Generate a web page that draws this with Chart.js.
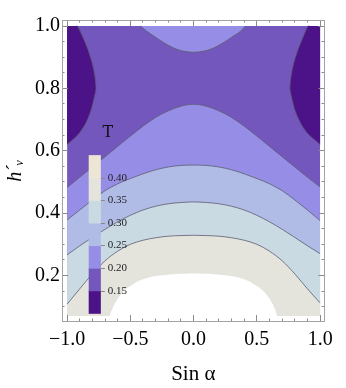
<!DOCTYPE html>
<html><head><meta charset="utf-8">
<script src="https://cdn.jsdelivr.net/npm/chart.js@4.4.0/dist/chart.umd.min.js"></script>
<style>html,body{margin:0;padding:0;background:#fff;}canvas{display:block;}</style>
</head><body>
<canvas id="c" width="346" height="388"></canvas>
<script>
// ---- axis ticks ----
const xMajorTicks = [-1, -0.5, 0, 0.5, 1];
const xTickLabels = ['\u22121.0', '\u22120.5', '0.0', '0.5', '1.0'];
const yMajorTicks = [0.2, 0.4, 0.6, 0.8, 1.0];
const yTickLabels = ['0.2', '0.4', '0.6', '0.8', '1.0'];
const xTitle = 'Sin \u03b1';
const yTitle = 'h\u00b4\u1d65';

// ---- contour levels (colour bar) ----
const legendTitle = 'T';
const legendLevels = ['0.15', '0.20', '0.25', '0.30', '0.35', '0.40'];
const levelColors = ['#4C1388', '#7357BD', '#968EE6', '#B0BCE6', '#C9DAE3', '#E4E4DD', '#EEE6D4'];

// ---- contour curves (x = Sin α, y = h'_v) ----
const curveX = [-1, -0.9, -0.8, -0.7, -0.6, -0.5, -0.4, -0.3, -0.2, -0.1, 0, 0.1, 0.2, 0.3, 0.4, 0.5, 0.6, 0.7, 0.8, 0.9, 1];
const level020Lower = [0.482, 0.515, 0.548, 0.581, 0.614, 0.647, 0.679, 0.707, 0.728, 0.743, 0.749, 0.743, 0.728, 0.707, 0.679, 0.647, 0.614, 0.581, 0.548, 0.515, 0.484];
const level025 = [0.378, 0.410, 0.442, 0.472, 0.494, 0.511, 0.526, 0.539, 0.548, 0.553, 0.554, 0.553, 0.548, 0.539, 0.526, 0.511, 0.494, 0.472, 0.442, 0.410, 0.376];
const level030 = [0.266, 0.295, 0.322, 0.348, 0.372, 0.393, 0.410, 0.422, 0.430, 0.434, 0.436, 0.434, 0.430, 0.422, 0.410, 0.393, 0.372, 0.348, 0.322, 0.295, 0.270];
const level035 = [0.108, 0.157, 0.205, 0.247, 0.278, 0.300, 0.313, 0.321, 0.326, 0.328, 0.329, 0.328, 0.326, 0.321, 0.313, 0.300, 0.278, 0.247, 0.205, 0.157, 0.112];

const capX = [-0.42, -0.375, -0.3, -0.225, -0.15, -0.075, 0, 0.075, 0.15, 0.225, 0.3, 0.375, 0.41];
const level020Upper = [1.0, 0.985, 0.964, 0.944, 0.928, 0.919, 0.916, 0.919, 0.928, 0.944, 0.964, 0.985, 1.0];

const darkLeftX = [-1, -0.95, -0.9, -0.85, -0.81, -0.785, -0.771, -0.78, -0.8, -0.835, -0.875, -0.917];
const darkLeftY = [0.62, 0.637, 0.658, 0.69, 0.73, 0.77, 0.8, 0.84, 0.88, 0.925, 0.965, 1.0];
const darkRightX = [1, 0.95, 0.895, 0.843, 0.8, 0.775, 0.761, 0.77, 0.79, 0.825, 0.865, 0.903];
const darkRightY = [0.62, 0.637, 0.658, 0.69, 0.73, 0.77, 0.8, 0.84, 0.88, 0.925, 0.965, 1.0];

const blankX = [-0.665, -0.64, -0.6, -0.55, -0.5, -0.43, -0.3, -0.15, 0, 0.15, 0.3, 0.43, 0.5, 0.55, 0.6, 0.64, 0.66];
const blankY = [0.07, 0.095, 0.125, 0.15, 0.166, 0.183, 0.198, 0.204, 0.206, 0.204, 0.198, 0.183, 0.166, 0.15, 0.125, 0.095, 0.07];

// ---- plotted domain ----
const xDomain = [-1, 1];
const yDomain = [0.07, 1.0];

// ---- styles ----
const contourLine = 'rgba(92,92,112,0.8)';
const frameColor = '#a3a3a3';
const tickColor = '#8a8a8a';
const serif = '"Liberation Serif", "Times New Roman", serif';

const pts = (xs, ys) => xs.map((x, i) => ({x, y: ys[i]}));
// closes a corner region along the domain edges (x = edgeX, y = top)
function cornerPolygon(xs, ys, edgeX) {
  const p = pts(xs, ys);
  const lastX = xs[xs.length - 1];
  const top = yDomain[1];
  [lastX + (edgeX - lastX) * 0.3, lastX + (edgeX - lastX) * 0.7, lastX + (edgeX - lastX) * 0.97].forEach(x => p.push({x, y: top}));
  p.push({x: edgeX, y: top});
  const bot = ys[0];
  [0.97, 0.7, 0.3, 0.03].forEach(f => p.push({x: edgeX, y: bot + (top - bot) * f}));
  return p;
}

const datasets = [];
function add(ds) {
  datasets.push(Object.assign({type: 'line', pointRadius: 0, pointHoverRadius: 0, borderWidth: 0, borderColor: 'transparent', cubicInterpolationMode: 'monotone'}, ds));
}
// base band 0.15–0.20
add({data: [{x: xDomain[0], y: yDomain[1]}, {x: xDomain[1], y: yDomain[1]}], fill: {value: yDomain[0]}, backgroundColor: levelColors[1], cubicInterpolationMode: 'default', tension: 0});
// dark corners < 0.15
add({data: cornerPolygon(darkLeftX, darkLeftY, xDomain[0]), fill: 'shape', backgroundColor: levelColors[0], cubicInterpolationMode: 'default', tension: 0.3});
add({data: cornerPolygon(darkRightX, darkRightY, xDomain[1]), fill: 'shape', backgroundColor: levelColors[0], cubicInterpolationMode: 'default', tension: 0.3});
add({data: pts(darkLeftX, darkLeftY), fill: false, borderColor: contourLine, borderWidth: 1, cubicInterpolationMode: 'default', tension: 0.3});
add({data: pts(darkRightX, darkRightY), fill: false, borderColor: contourLine, borderWidth: 1, cubicInterpolationMode: 'default', tension: 0.3});
// 0.20 (upper cap)
add({data: pts(capX, level020Upper), fill: {value: yDomain[1]}, backgroundColor: levelColors[2], borderColor: contourLine, borderWidth: 1});
// lower contours
add({data: pts(curveX, level020Lower), fill: {value: yDomain[0]}, backgroundColor: levelColors[2], borderColor: contourLine, borderWidth: 1});
add({data: pts(curveX, level025), fill: {value: yDomain[0]}, backgroundColor: levelColors[3], borderColor: contourLine, borderWidth: 1});
add({data: pts(curveX, level030), fill: {value: yDomain[0]}, backgroundColor: levelColors[4], borderColor: contourLine, borderWidth: 1});
add({data: pts(curveX, level035), fill: {value: yDomain[0]}, backgroundColor: levelColors[5], borderColor: contourLine, borderWidth: 1});
// region outside the computed domain
add({data: pts(blankX, blankY), fill: {value: yDomain[0]}, backgroundColor: '#ffffff', cubicInterpolationMode: 'default', tension: 0.3});
datasets.forEach((d, i) => { d.order = datasets.length - i; });

// ---- frame ticks ----
const xAllTicks = []; for (let k = -10; k <= 10; k++) xAllTicks.push(k / 10);
const yAllTicks = []; for (let k = 2; k <= 20; k++) yAllTicks.push(k / 20);
const near = (a, b) => Math.abs(a - b) < 1e-9;

function frameAxis(position, all, majors, labels, showLabels, min, max, size, padding, weight) {
  const startsInside = position === 'top' || position === 'left';
  const horizontal = position === 'top' || position === 'bottom';
  return {
    type: 'linear', position, min, max, weight,
    afterBuildTicks: ax => { ax.ticks = all.map(v => ({value: v})); },
    afterFit: ax => { if (horizontal) ax.height = size; else ax.width = size; },
    grid: {
      drawOnChartArea: false, drawTicks: true, tickLength: -6, tickColor, tickWidth: 1, z: 1,
      tickBorderDash: ctx => majors.some(m => near(m, ctx.tick.value)) ? [] : (startsInside ? [0, 3.5, 3, 40] : [3.5, 40])
    },
    border: {display: true, color: frameColor, width: 1, z: 1},
    ticks: {
      display: showLabels, autoSkip: false, maxRotation: 0, minRotation: 0, padding,
      color: '#000', font: {family: serif, size: 20},
      callback: v => { const i = majors.findIndex(m => near(m, v)); return i >= 0 ? labels[i] : ''; }
    }
  };
}

const xScale = frameAxis('bottom', xAllTicks, xMajorTicks, xTickLabels, true, -1.04, 1.035, 67, 13, 1);
xScale.title = {display: true, text: xTitle, color: '#000', font: {family: serif, size: 21}, padding: {top: 0, bottom: 1}};
const yScale = frameAxis('left', yAllTicks, yMajorTicks, yTickLabels, true, 0.054, 1.0194, 62, 8, 1);
yScale.title = {display: true, text: yTitle, color: '#000', font: {family: serif, size: 20, style: 'italic'}, padding: {top: 4, bottom: 0}};
const x2Scale = frameAxis('top', xAllTicks, xMajorTicks, xTickLabels, false, -1.04, 1.035, 0, 0, 0);
const y2Scale = frameAxis('right', yAllTicks, yMajorTicks, yTickLabels, false, 0.054, 1.0194, 0, 0, 0);

// ---- colour bar legend (placed in data coordinates) ----
const colorbarBox = {x0: -0.829, x1: -0.733, y0: 0.079, y1: 0.586};
const colorbarTitleAt = {x: -0.678, y: 0.656};
const colorbarPlugin = {
  id: 'colorbar',
  afterDatasetsDraw(chart) {
    const {ctx} = chart; const sx = chart.scales.x, sy = chart.scales.y;
    const left = sx.getPixelForValue(colorbarBox.x0), right = sx.getPixelForValue(colorbarBox.x1);
    const top = sy.getPixelForValue(colorbarBox.y1), bottom = sy.getPixelForValue(colorbarBox.y0);
    const n = levelColors.length, h = (bottom - top) / n;
    ctx.save();
    for (let i = 0; i < n; i++) {
      ctx.fillStyle = levelColors[i];
      ctx.fillRect(left, bottom - (i + 1) * h, right - left, h + 0.6);
    }
    ctx.font = '11px ' + serif; ctx.fillStyle = '#222'; ctx.textBaseline = 'middle'; ctx.textAlign = 'left';
    ctx.strokeStyle = '#888'; ctx.lineWidth = 1;
    legendLevels.forEach((lab, i) => {
      const yy = Math.round(bottom - (i + 1) * h) + 0.5;
      ctx.beginPath(); ctx.moveTo(right, yy); ctx.lineTo(right + 4, yy); ctx.stroke();
      ctx.fillText(lab, right + 7, yy);
    });
    ctx.font = '16px "DejaVu Serif", serif'; ctx.textAlign = 'center'; ctx.fillStyle = '#111';
    ctx.fillText(legendTitle, sx.getPixelForValue(colorbarTitleAt.x), sy.getPixelForValue(colorbarTitleAt.y));
    ctx.restore();
  }
};

new Chart(document.getElementById('c'), {
  type: 'line',
  data: {datasets},
  options: {
    responsive: false, animation: false, devicePixelRatio: 1,
    layout: {padding: {left: 0, right: 9, top: 7, bottom: 0}},
    plugins: {legend: {display: false}, tooltip: {enabled: false}},
    scales: {x: xScale, y: yScale, x2: x2Scale, y2: y2Scale}
  },
  plugins: [colorbarPlugin]
});
</script>
</body></html>
